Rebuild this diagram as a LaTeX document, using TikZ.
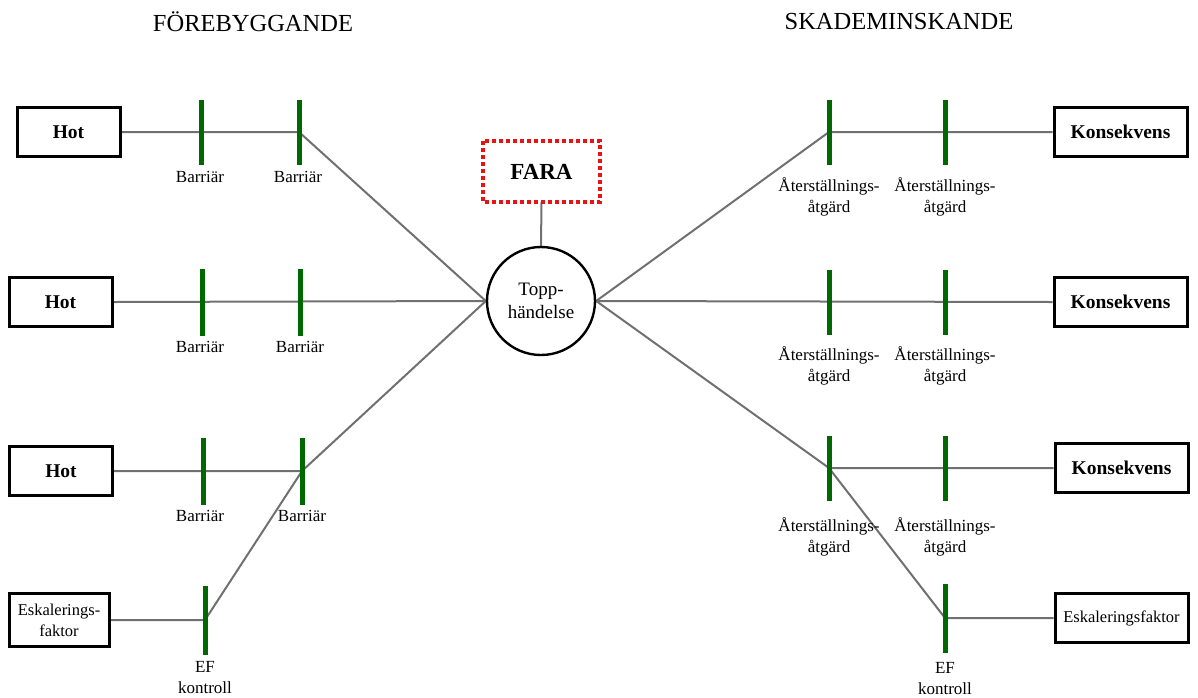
\documentclass[tikz,border=0pt]{standalone}
\usepackage{fontspec}
\setmainfont{Liberation Serif}
\usetikzlibrary{backgrounds}
\definecolor{bargreen}{RGB}{0,104,0}
\definecolor{linegray}{RGB}{112,112,112}
\definecolor{farared}{RGB}{232,20,20}
\tikzset{
  x=1pt, y=-1pt,
  box/.style={draw=black, line width=3pt, fill=white, inner sep=0pt,
    minimum width=103pt, minimum height=49pt, align=center},
  boxlabel/.style={box, font=\fontsize{19.5}{22}\selectfont\bfseries},
  boxsmall/.style={box, font=\fontsize{16.5}{21}\selectfont},
  barrier/.style={fill=bargreen, draw=none, inner sep=0pt,
    minimum width=5pt, minimum height=65pt},
  label/.style={inner sep=0pt, align=center, font=\fontsize{17}{21}\selectfont},
  title/.style={inner sep=0pt, font=\fontsize{24.5}{28}\selectfont},
  link/.style={draw=linegray, line width=2pt},
}
\begin{document}
\begin{tikzpicture}
\useasboundingbox (0,0) rectangle (1198,697);

% headings
\node[title] (tleft) at (253,22) {FÖREBYGGANDE};
\node[title] (tright) at (899,22) {SKADEMINSKANDE};

% hazard and top event
\node[draw=white, line width=4pt, minimum width=113pt, minimum height=57pt, inner sep=0pt,
      font=\fontsize{23}{26}\selectfont\bfseries] (fara) at (541.5,171.5) {FARA};
\draw[farared, line width=4pt, dash pattern=on 4pt off 3pt]
  (fara.north west) rectangle (fara.south east);
\node[circle, draw=black, line width=2.4pt, minimum size=108pt, inner sep=0pt,
      align=center, font=\fontsize{19}{23}\selectfont] (top) at (541,301) {Topp-\\händelse};

% threats
\node[boxlabel] (h1) at (68.5,132) {Hot};
\node[boxlabel] (h2) at (60.5,302) {Hot};
\node[boxlabel] (h3) at (61,471) {Hot};
\node[boxsmall, minimum width=100pt, minimum height=53pt] (efl) at (59,620) {Eskalerings-\\faktor};

% consequences
\node[boxlabel, minimum width=133pt] (k1) at (1120.5,132) {Konsekvens};
\node[boxlabel, minimum width=133pt] (k2) at (1120.5,302) {Konsekvens};
\node[boxlabel, minimum width=133pt] (k3) at (1121.5,468) {Konsekvens};
\node[boxsmall, minimum width=133pt] (efr) at (1121.5,618) {Eskaleringsfaktor};

% preventive barriers
\node[barrier] (b11) at (201,132) {};
\node[barrier] (b12) at (299,132) {};
\node[barrier, minimum height=67pt] (b21) at (202,302) {};
\node[barrier, minimum height=67pt] (b22) at (300,302) {};
\node[barrier, minimum height=67pt] (b31) at (203,471) {};
\node[barrier, minimum height=67pt] (b32) at (302,471) {};
\node[barrier, minimum height=69pt] (efcl) at (205,620) {};

% recovery measures
\node[barrier] (r11) at (829,132) {};
\node[barrier] (r12) at (945,132) {};
\node[barrier] (r21) at (829,302) {};
\node[barrier] (r22) at (945,302) {};
\node[barrier] (r31) at (829,468) {};
\node[barrier] (r32) at (945,468) {};
\node[barrier, minimum height=69pt] (efcr) at (945,618) {};

% labels under the barriers
\node[label] (lb11) at (200,177) {Barriär};
\node[label] (lb12) at (298,177) {Barriär};
\node[label] (lb21) at (200,347) {Barriär};
\node[label] (lb22) at (300,347) {Barriär};
\node[label] (lb31) at (200,516) {Barriär};
\node[label] (lb32) at (302,516) {Barriär};
\node[label] (lefl) at (205,678) {EF\\kontroll};

\node[label] (lr11) at (829,197) {Återställnings-\\åtgärd};
\node[label] (lr12) at (945,197) {Återställnings-\\åtgärd};
\node[label] (lr21) at (829,366) {Återställnings-\\åtgärd};
\node[label] (lr22) at (945,366) {Återställnings-\\åtgärd};
\node[label] (lr31) at (829,537) {Återställnings-\\åtgärd};
\node[label] (lr32) at (945,537) {Återställnings-\\åtgärd};
\node[label] (lefr) at (945,679) {EF\\kontroll};

% connectors
\begin{scope}[on background layer]
  \draw[link] (fara.south) -- (top.north);
  % left side
  \draw[link] (h1.east) -- (b12.center) -- (top.west);
  \draw[link] (h2.east) -- (top.west);
  \draw[link] (h3.east) -- (b32.center) -- (top.west);
  \draw[link] (efl.east) -- (efcl.center) -- (b32.center);
  % right side
  \draw[link] (top.east) -- (r11.center) -- (k1.west);
  \draw[link] (top.east) -- (k2.west);
  \draw[link] (top.east) -- (r31.center) -- (k3.west);
  \draw[link] (r31.center) -- (efcr.center) -- (efr.west);
\end{scope}
\end{tikzpicture}
\end{document}
